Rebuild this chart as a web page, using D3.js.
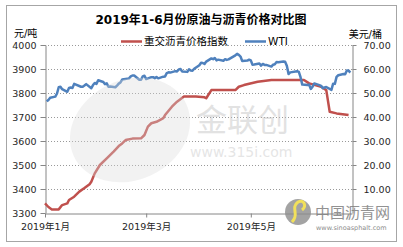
<!DOCTYPE html>
<html>
<head>
<meta charset="utf-8">
<script src="https://cdn.jsdelivr.net/npm/d3@7"></script>
<style>
  body { margin: 0; background: #fff; }
  text { font-family: "DejaVu Sans", "Noto Sans CJK SC", sans-serif; }
</style>
</head>
<body>
<svg id="chart" width="403" height="247"></svg>
<script>
// 重交沥青价格指数 (元/吨)
const asphaltDates = ["01-01","01-03","01-05","01-09","01-11","01-14","01-15","01-18","01-21","01-24","01-27","01-28","01-30",
  "02-02","02-06","02-10","02-13","02-15","02-17","02-21","02-26","02-28","03-02","03-04","03-07","03-11","03-12","03-16",
  "03-19","03-23","03-30","04-04","04-05","04-08","04-22","04-24","04-27","05-05","05-13","06-01","06-04","06-11","06-14",
  "06-16","06-20","06-27"];
const asphaltValues = [3340,3325,3315,3315,3333,3340,3354,3368,3389,3404,3420,3430,3465,
  3500,3528,3556,3579,3590,3604,3610,3611,3625,3660,3674,3680,3695,3708,3743,
  3764,3785,3785,3782,3778,3812,3812,3826,3833,3847,3854,3854,3840,3826,3812,
  3722,3715,3708];

// WTI (美元/桶)
const wtiDates = ["01-02","01-03","01-04","01-07","01-08","01-09","01-10","01-11","01-14","01-15","01-16","01-17","01-18",
  "01-22","01-23","01-24","01-25","01-28","01-29","01-30","01-31","02-01","02-04","02-05","02-06","02-07","02-08",
  "02-11","02-12","02-13","02-14","02-15","02-19","02-20","02-21","02-22","02-25","02-26","02-27","02-28",
  "03-01","03-04","03-05","03-06","03-07","03-08","03-11","03-12","03-13","03-14","03-15","03-18","03-19","03-20",
  "03-21","03-22","03-25","03-26","03-27","03-28","03-29","04-01","04-02","04-03","04-04","04-05","04-08","04-09",
  "04-10","04-11","04-12","04-15","04-16","04-17","04-18","04-22","04-23","04-24","04-25","04-26","04-29","04-30",
  "05-01","05-02","05-03","05-06","05-07","05-08","05-09","05-10","05-13","05-14","05-15","05-16","05-17","05-20",
  "05-21","05-22","05-23","05-24","05-28","05-29","05-30","05-31","06-03","06-04","06-05","06-06","06-07","06-10",
  "06-11","06-12","06-13","06-14","06-17","06-18","06-19","06-20","06-21","06-24","06-25","06-26","06-27","06-28"];
const wtiValues = [46.5,47.1,48.0,48.5,49.8,52.4,52.6,51.6,50.5,52.1,52.3,52.1,53.8,
  52.6,52.6,53.1,53.7,52.0,53.3,54.2,53.8,55.3,54.6,53.7,54.0,52.6,52.7,
  52.4,53.1,53.9,54.4,55.6,56.1,56.9,57.3,57.3,55.5,55.5,56.9,57.2,
  55.8,56.6,56.6,56.2,56.7,56.1,56.8,56.9,58.3,58.6,58.5,59.1,59.0,59.8,
  60.0,59.0,58.8,59.9,59.4,59.3,60.1,61.6,62.6,62.5,62.1,63.1,64.4,64.1,
  64.6,63.6,63.9,63.4,64.1,63.8,64.0,65.7,66.3,65.9,65.2,63.3,63.5,63.9,
  63.6,61.8,61.9,62.3,61.4,62.1,61.7,61.7,61.0,61.8,62.0,62.9,62.8,63.1,
  63.0,61.4,57.9,58.6,59.1,58.8,56.6,53.5,53.3,53.5,51.7,52.6,54.0,53.3,
  53.0,52.0,52.3,52.5,51.3,53.9,53.8,56.7,57.4,57.9,57.8,59.4,59.4,58.5];

const leftTicks = [3300,3400,3500,3600,3700,3800,3900,4000];
const rightTicks = [10,20,30,40,50,60,70];
const xTickDates = ["01-01","03-01","05-01"];
const xTickLabels = ["2019年1月","2019年3月","2019年5月"];

const parse = d3.timeParse("%Y-%m-%d");
const toDate = s => parse("2019-" + s);

const svg = d3.select("#chart");
const margin = { top: 45, right: 51, bottom: 34, left: 45 };
const width = +svg.attr("width");
const height = +svg.attr("height");

const x = d3.scaleTime()
    .domain([toDate("01-01"), toDate("06-29")])
    .range([margin.left, width - margin.right]);

const yL = d3.scaleLinear()
    .domain([3300, 4000])
    .range([height - margin.bottom, margin.top]);

const yR = d3.scaleLinear()
    .domain([0, 70])
    .range([height - margin.bottom, margin.top]);

// outer frame
svg.append("rect")
    .attr("x", 6.5).attr("y", 5.5)
    .attr("width", 390).attr("height", 236)
    .attr("fill", "#fff")
    .attr("stroke", "#a6a6a6");

// grid
svg.append("g")
    .selectAll("line")
    .data(leftTicks.slice(1))
    .join("line")
    .attr("x1", margin.left).attr("x2", width - margin.right)
    .attr("y1", d => Math.round(yL(d)) + 0.5)
    .attr("y2", d => Math.round(yL(d)) + 0.5)
    .attr("stroke", "#999")
    .attr("stroke-dasharray", "1,2");

// left axis
const gL = svg.append("g")
    .attr("transform", `translate(${margin.left + 0.5}, 0)`)
    .call(d3.axisLeft(yL).tickValues(leftTicks).tickSize(5).tickPadding(4)
        .tickFormat(d3.format("d")).tickSizeOuter(0));

// right axis
const gR = svg.append("g")
    .attr("transform", `translate(${width - margin.right + 0.5}, 0)`)
    .call(d3.axisRight(yR).tickValues(rightTicks).tickSize(4).tickPadding(7)
        .tickFormat(d3.format(".2f")).tickSizeOuter(0));

// bottom axis
const gB = svg.append("g")
    .attr("transform", `translate(0, ${height - margin.bottom + 0.5})`)
    .call(d3.axisBottom(x).tickValues(xTickDates.map(toDate)).tickSize(4).tickPadding(6)
        .tickFormat((d, i) => xTickLabels[i]).tickSizeOuter(0));

[gL, gR, gB].forEach(g => {
    g.select(".domain").attr("stroke", "#868686");
    g.selectAll(".tick line").attr("stroke", "#868686");
    g.selectAll(".tick text")
        .attr("fill", "#262626")
        .style("font-size", "9.5px")
        .style("font-family", '"DejaVu Sans", "Noto Sans CJK SC", sans-serif');
});

// lines
const asphalt = asphaltDates.map((d, i) => ({ date: toDate(d), value: asphaltValues[i] }));
const wti = wtiDates.map((d, i) => ({ date: toDate(d), value: wtiValues[i] }));

svg.append("path")
    .datum(asphalt)
    .attr("fill", "none")
    .attr("stroke", "#C0504D")
    .attr("stroke-width", 2.5)
    .attr("stroke-linejoin", "round")
    .attr("d", d3.line().x(d => x(d.date)).y(d => yL(d.value)));

svg.append("path")
    .datum(wti)
    .attr("fill", "none")
    .attr("stroke", "#4F81BD")
    .attr("stroke-width", 2.5)
    .attr("stroke-linejoin", "round")
    .attr("d", d3.line().x(d => x(d.date)).y(d => yR(d.value)));

// watermarks
const wm = svg.append("g").attr("pointer-events", "none");
wm.append("ellipse")
    .attr("cx", 130).attr("cy", 130).attr("rx", 62).attr("ry", 50)
    .attr("transform", "rotate(-25,130,130)")
    .attr("fill", "#d9d9d9").attr("opacity", 0.35);
wm.append("text")
    .attr("x", 196).attr("y", 131)
    .style("font-size", "31px")
    .style("font-family", '"Noto Sans CJK SC", sans-serif')
    .attr("fill", "#bfbfbf").attr("opacity", 0.45)
    .text("金联创");
wm.append("text")
    .attr("x", 190).attr("y", 157)
    .style("font-size", "14px")
    .attr("fill", "#bfbfbf").attr("opacity", 0.4)
    .text("www.315i.com");
wm.append("circle")
    .attr("cx", 298).attr("cy", 212).attr("r", 13)
    .attr("fill", "#8c8c8c").attr("opacity", 0.8);
wm.append("path")
    .attr("d", "M292,222 C300,214 290,208 298,202 C304,199 307,206 302,210")
    .attr("fill", "none").attr("stroke", "#f2e15a").attr("stroke-width", 3);
wm.append("text")
    .attr("x", 315).attr("y", 218)
    .style("font-size", "15px")
    .style("font-family", '"Noto Sans CJK SC", sans-serif')
    .attr("fill", "#7f7f7f").attr("opacity", 0.85)
    .text("中国沥青网");
wm.append("text")
    .attr("x", 316).attr("y", 230)
    .style("font-size", "6.5px")
    .attr("fill", "#8c8c8c")
    .text("www.sinoasphalt.com");

// title
svg.append("text")
    .attr("x", 201).attr("y", 24)
    .attr("text-anchor", "middle")
    .style("font-size", "12px")
    .style("font-weight", "bold")
    .attr("fill", "#000")
    .text("2019年1-6月份原油与沥青价格对比图");

// axis units
svg.append("text")
    .attr("x", 14).attr("y", 37)
    .style("font-size", "10px")
    .attr("fill", "#000")
    .text("元/吨");

svg.append("text")
    .attr("x", 382).attr("y", 38)
    .attr("text-anchor", "end")
    .style("font-size", "10px")
    .attr("fill", "#000")
    .text("美元/桶");

// legend
const legend = [
    { label: "重交沥青价格指数", color: "#C0504D", x: 121 },
    { label: "WTI", color: "#4F81BD", x: 245 }
];
const lg = svg.append("g").selectAll("g").data(legend).join("g")
    .attr("transform", d => `translate(${d.x}, 41.5)`);
lg.append("line")
    .attr("x1", 0).attr("x2", 21)
    .attr("stroke", d => d.color).attr("stroke-width", 2.5);
lg.append("text")
    .attr("x", 23).attr("y", 3.5)
    .style("font-size", "10.5px")
    .attr("fill", "#000")
    .text(d => d.label);
</script>
</body>
</html>
